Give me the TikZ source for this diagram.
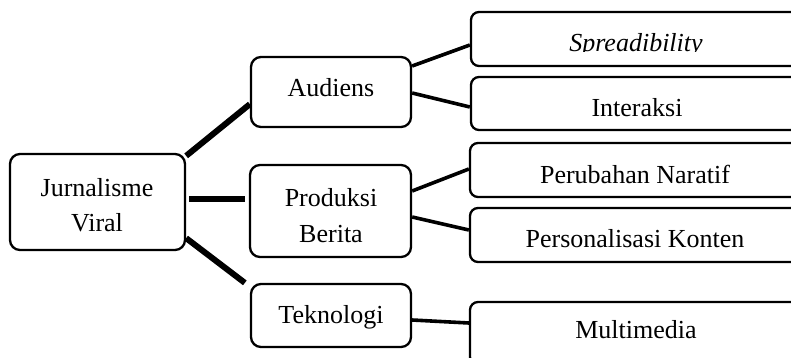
\documentclass[tikz,border=0pt]{standalone}
\usepackage{fontspec}
\setmainfont{Liberation Serif}
\begin{document}
\begin{tikzpicture}[x=1pt,y=-1pt,
  box/.style={draw=black,line width=2.3pt,rounded corners=10pt,inner sep=0pt,fill=white},
  txt/.style={anchor=base,inner sep=0pt,font=\fontsize{26}{30}\selectfont},
  thick link/.style={line width=6pt},
  thin link/.style={line width=3.6pt}]
\clip (0,0) rectangle (791,358);
\useasboundingbox (0,0) rectangle (791,358);
% boxes
\node[box,minimum width=175pt,minimum height=96pt] (root) at (97.5,202) {};
\node[box,minimum width=160pt,minimum height=70pt] (aud) at (331,92) {};
\node[box,minimum width=161pt,minimum height=92pt] (prod) at (330.5,211) {};
\node[box,minimum width=160pt,minimum height=63pt] (tek) at (331,315.5) {};
\node[box,rounded corners=8pt,minimum width=330pt,minimum height=54pt] (r1) at (636,39) {};
\node[box,rounded corners=8pt,minimum width=330pt,minimum height=53pt] (r2) at (636,103.5) {};
\node[box,rounded corners=8pt,minimum width=331pt,minimum height=54pt] (r3) at (635.5,170) {};
\node[box,rounded corners=8pt,minimum width=331pt,minimum height=54pt] (r4) at (635.5,235) {};
\node[box,rounded corners=8pt,minimum width=331pt,minimum height=63pt] (r5) at (635.5,333.5) {};
% connectors
\draw[thick link] ([yshift=-3pt]root.north east) -- ([yshift=24pt]aud.south west);
\draw[thick link] ([xshift=3pt,yshift=3pt]root.east) -- ([xshift=-4pt,yshift=12pt]prod.west);
\draw[thick link] ([yshift=13pt]root.south east) -- ([xshift=-5pt]tek.north west);
\draw[thin link] ([yshift=26pt]aud.east) -- ([yshift=-6pt]r1.west);
\draw[thin link] ([yshift=-1pt]aud.east) -- ([yshift=-3.5pt]r2.west);
\draw[thin link] ([yshift=20pt]prod.east) -- ([yshift=1pt]r3.west);
\draw[thin link] ([yshift=-6pt]prod.east) -- ([yshift=5pt]r4.west);
\draw[thin link] ([yshift=-4.5pt]tek.east) -- ([yshift=10.5pt]r5.west);
% texts
\node[txt] (t1) at (97,196) {Jurnalisme};
\node[txt] (t2) at (97,231) {Viral};
\node[txt] (t3) at (331,97) {Audiens};
\node[txt] (t4) at (331,206) {Produksi};
\node[txt] (t5) at (331,242) {Berita};
\node[txt] (t6) at (331,323) {Teknologi};
\begin{scope}
\clip (471,12) rectangle (801,51.8);
\node[txt,font=\fontsize{26}{30}\selectfont\itshape] (t7) at (636,52) {Spreadibility};
\end{scope}
\node[txt] (t8) at (637,117) {Interaksi};
\node[txt] (t9) at (635,183) {Perubahan Naratif};
\node[txt] (t10) at (635,247) {Personalisasi Konten};
\node[txt] (t11) at (636,338) {Multimedia};
\end{tikzpicture}
\end{document}
